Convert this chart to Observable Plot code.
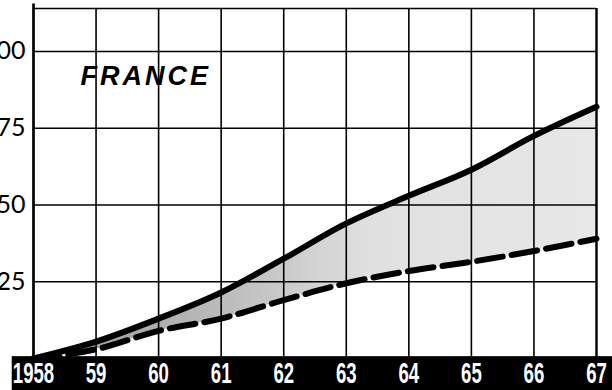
<!DOCTYPE html>
<html>
<head>
<meta charset="utf-8">
<script src="https://cdn.jsdelivr.net/npm/d3@7"></script>
<script src="https://cdn.jsdelivr.net/npm/@observablehq/plot@0.6"></script>
<style>
  html, body { margin: 0; padding: 0; background: #fff; }
  #chart svg { display: block; }
</style>
</head>
<body>
<div id="chart"></div>
<script>
const years = [1958, 1959, 1960, 1961, 1962, 1963, 1964, 1965, 1966, 1967];
const xLabels = ["1958", "59", "60", "61", "62", "63", "64", "65", "66", "67"];
const solidValues = [0, 5.5, 13, 21.5, 32.5, 44, 53, 61.5, 72.5, 82];
const dashedValues = [0, 3, 9, 13, 19, 24.5, 28.5, 31.5, 35, 39];
const yTicks = [25, 50, 75, 100];
const yLabels = ["25", "50", "75", "100"];
const title = "FRANCE";

const rows = years.map((year, i) => ({year, solid: solidValues[i], dashed: dashedValues[i]}));
const yTop = 114;

const svg = Plot.plot({
  width: 612,
  height: 390,
  marginLeft: 33,
  marginRight: 16,
  marginTop: 8,
  marginBottom: 32,
  x: {domain: [1958, 1967], axis: null},
  y: {domain: [0, yTop], axis: null},
  style: {background: "white", overflow: "visible"},
  marks: [
    // shaded area between the two series
    Plot.areaY(rows, {x: "year", y1: "dashed", y2: "solid", fill: "url(#stipple)", curve: "monotone-x"}),
    // grid
    Plot.ruleX(years, {y1: 0, y2: yTop, stroke: "black", strokeWidth: 1.6}),
    Plot.ruleY([...yTicks, yTop], {x1: 1958, x2: 1967, stroke: "black", strokeWidth: 1.6}),
    Plot.ruleX([1958], {y1: 0, y2: yTop + 1.5, stroke: "black", strokeWidth: 2.6}),
    Plot.ruleX([1967], {y1: 0, y2: yTop, stroke: "black", strokeWidth: 2.2}),
    // lines
    Plot.line(rows, {x: "year", y: "dashed", stroke: "black", strokeWidth: 6, strokeDasharray: "26,9", curve: "monotone-x"}),
    Plot.line(rows, {x: "year", y: "solid", stroke: "black", strokeWidth: 6, curve: "monotone-x"}),
    // black band with x labels
    Plot.rect([0], {x1: years[0] - 0.34, x2: years[years.length - 1] + 0.5, y1: 0.6, y2: -11.5, fill: "black"}),
    Plot.text(years, {x: d => d, y: -4.9, text: (d, i) => xLabels[i], fill: "white",
      fontSize: 30, fontWeight: "bold", fontFamily: "'Liberation Sans', Arial, sans-serif"}),
    // y labels
    Plot.text(yTicks, {x: 1958, y: d => d, dx: -8, text: (d, i) => yLabels[i], textAnchor: "end",
      fontSize: 25, fill: "black", fontFamily: "Lato, 'Open Sans', sans-serif"}),
    // title
    Plot.text([title], {x: 1958.75, y: 92, text: d => d, textAnchor: "start", fontSize: 27,
      fontWeight: "bold", fontStyle: "italic", fill: "black", fontFamily: "'Liberation Sans', Arial, sans-serif"})
  ]
});

// stipple gradient
const defs = d3.select(svg).insert("defs", ":first-child");
const grad = defs.append("linearGradient").attr("id", "stipple").attr("x1", "0").attr("x2", "1").attr("y1", "0").attr("y2", "0");
grad.append("stop").attr("offset", "0%").attr("stop-color", "#959595");
grad.append("stop").attr("offset", "35%").attr("stop-color", "#bdbdbd");
grad.append("stop").attr("offset", "60%").attr("stop-color", "#e0e0e0");
grad.append("stop").attr("offset", "100%").attr("stop-color", "#e8e8e8");

// condensed x labels, spaced title
const xLabelSet = new Set(xLabels);
svg.querySelectorAll("text").forEach(el => {
  const s = el.textContent;
  if (xLabelSet.has(s)) {
    const t = el.getAttribute("transform") || "";
    el.setAttribute("transform", `${t} scale(0.62,1)`);
  } else if (s === title) {
    el.setAttribute("letter-spacing", "3");
  }
});

document.getElementById("chart").appendChild(svg);
</script>
</body>
</html>
